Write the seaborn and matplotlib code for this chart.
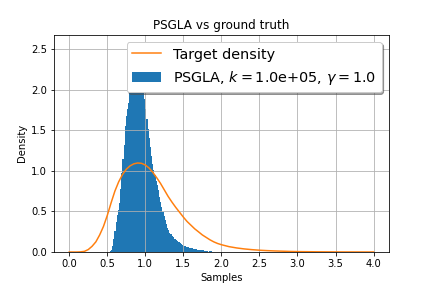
import pandas as pd
import matplotlib
matplotlib.use("Agg")
import matplotlib.pyplot as plt
import seaborn as sns

# Target density curve
curve_x = [0.0, 0.1, 0.15, 0.2, 0.25, 0.3, 0.35, 0.4, 0.45, 0.5, 0.55, 0.6, 0.65, 0.7,
           0.75, 0.8, 0.85, 0.9, 0.95, 1.0, 1.05, 1.1, 1.15, 1.2, 1.25, 1.3, 1.35, 1.4,
           1.45, 1.5, 1.55, 1.6, 1.65, 1.7, 1.75, 1.8, 1.85, 1.9, 1.95, 2.0, 2.1, 2.2,
           2.3, 2.4, 2.5, 2.6, 2.7, 2.8, 2.9, 3.0, 3.25, 3.5, 4.0]
curve_y = [0.0, 0.0, 0.002, 0.008, 0.03, 0.07, 0.125, 0.21, 0.315, 0.45, 0.605, 0.75, 0.865, 0.955,
           1.02, 1.062, 1.087, 1.097, 1.093, 1.072, 1.035, 0.98, 0.915, 0.845, 0.765, 0.685, 0.615, 0.55,
           0.49, 0.43, 0.375, 0.33, 0.285, 0.248, 0.21, 0.18, 0.15, 0.125, 0.105, 0.09, 0.066, 0.05,
           0.038, 0.029, 0.022, 0.017, 0.013, 0.01, 0.007, 0.005, 0.0025, 0.001, 0.0002]

# Histogram (PSGLA samples) bin heights, bins of width 0.015 starting at 0.535
bin_start = 0.535
bin_width = 0.015
hist_heights = [0.01, 0.03, 0.08, 0.16, 0.26, 0.37, 0.45, 0.52, 0.60, 0.78,
                0.97, 1.15, 1.32, 1.55, 1.68, 1.76, 1.84, 2.05, 2.22, 2.36,
                2.44, 2.50, 2.55, 2.57, 2.54, 2.48, 2.40, 2.32, 2.18, 2.02,
                1.88, 1.76, 1.64, 1.52, 1.40, 1.29, 1.18, 1.09, 1.01, 0.95,
                0.88, 0.83, 0.76, 0.68, 0.62, 0.55, 0.49, 0.44, 0.39, 0.34,
                0.30, 0.27, 0.24, 0.22, 0.20, 0.18, 0.165, 0.155, 0.145, 0.13,
                0.12, 0.11, 0.095, 0.085, 0.08, 0.075, 0.07, 0.065, 0.06, 0.055,
                0.05, 0.048, 0.045, 0.04, 0.04, 0.035, 0.03, 0.03, 0.025, 0.025,
                0.02, 0.02, 0.015, 0.015, 0.01, 0.012, 0.0, 0.01, 0.008, 0.0,
                0.006]

n = len(hist_heights)
edges = [bin_start + bin_width * i for i in range(n + 1)]
centers = [0.5 * (edges[i] + edges[i + 1]) for i in range(n)]
df = pd.DataFrame({"x": centers, "w": hist_heights})

fig, ax = plt.subplots(figsize=(6, 4), dpi=72)
fig.subplots_adjust(left=0.125, right=0.9, bottom=0.125, top=0.88)

sns.histplot(data=df, x="x", weights="w", bins=edges, stat="count",
             color="#1f77b4", alpha=1.0, linewidth=0, ax=ax)
sns.lineplot(x=curve_x, y=curve_y, color="#ff7f0e", linewidth=1.5, ax=ax)

ax.grid(True)
ax.set_xlim(-0.2, 4.2)
ax.set_ylim(0, 2.68)
ax.set_xlabel("Samples")
ax.set_ylabel("Density")
ax.set_title("PSGLA vs ground truth")

line_handle = ax.lines[0]
bar_handle = ax.patches[0]
ax.legend([line_handle, bar_handle],
          ["Target density", r"PSGLA, $k=$1.0e+05, $\gamma=1.0$"],
          loc="upper right", fontsize="x-large", shadow=True)

fig.savefig("out.png", dpi=72)
